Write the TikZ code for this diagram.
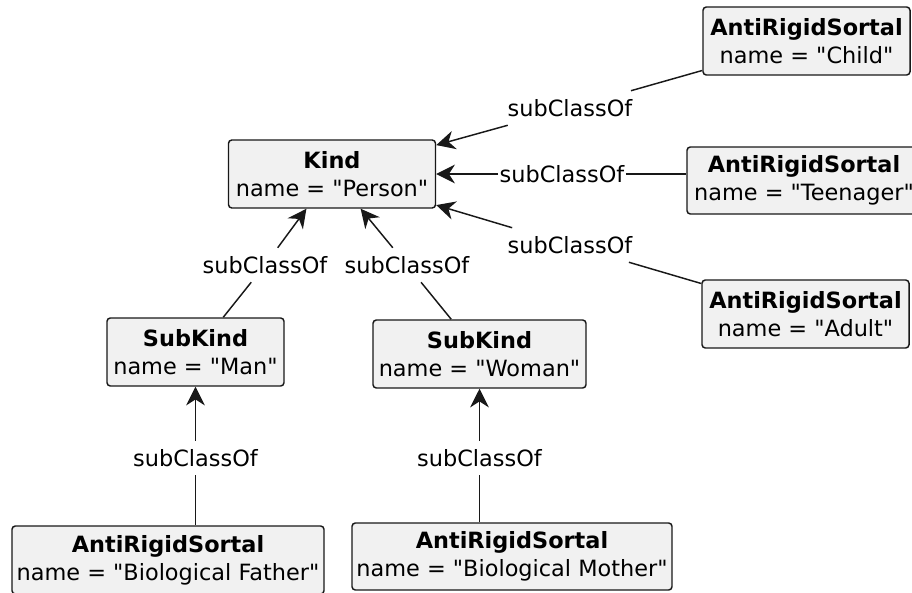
\documentclass[tikz,border=0pt]{standalone}
\usepackage{fontspec}
\newfontfamily\dvs{DejaVu Sans}
\usetikzlibrary{arrows.meta}
\definecolor{boxfill}{HTML}{F1F1F1}
\definecolor{boxline}{HTML}{181818}
\begin{document}
\begin{tikzpicture}[x=0.75pt,y=-0.75pt,
  cls/.style 2 args={draw=boxline, fill=boxfill, line width=1.1pt, rounded corners=2.5pt,
    inner sep=0pt, align=center, minimum width=#1*0.75pt, minimum height=#2*0.75pt,
    font=\dvs\fontsize{16.8}{21}\selectfont},
  lbl/.style={inner xsep=1pt, inner ysep=0pt, minimum height=25.5pt,
    font=\dvs\fontsize{16.8}{21}\selectfont},
  conn/.style={draw=boxline, line width=1.1pt},
  arr/.style={conn, -{Stealth[length=14pt, width=14pt, inset=4.5pt]}}]
\useasboundingbox (0,0) rectangle (912,592);
% classes
\node[cls={207}{68}] (person) at (332,174) {\textbf{Kind}\\name = "Person"};
\node[cls={207}{68}] (child) at (806.5,41) {\textbf{AntiRigidSortal}\\name = "Child"};
\node[cls={234}{67}] (teen) at (804,180.5) {\textbf{AntiRigidSortal}\\name = "Teenager"};
\node[cls={207}{68}] (adult) at (805.5,314) {\textbf{AntiRigidSortal}\\name = "Adult"};
\node[cls={177}{68}] (man) at (195.5,352) {\textbf{SubKind}\\name = "Man"};
\node[cls={213}{68}] (woman) at (479.5,354) {\textbf{SubKind}\\name = "Woman"};
\node[cls={312}{68}] (father) at (168,560) {\textbf{AntiRigidSortal}\\name = "Biological Father"};
\node[cls={320}{67}] (mother) at (512,556.5) {\textbf{AntiRigidSortal}\\name = "Biological Mother"};
% labels
\node[lbl] (l1) at (570,108) {subClassOf};
\node[lbl] (l2) at (562,174) {subClassOf};
\node[lbl] (l3) at (570,245) {subClassOf};
\node[lbl] (l4) at (265,265) {subClassOf};
\node[lbl] (l5) at (407,265) {subClassOf};
\node[lbl] (l6) at (195.5,458) {subClassOf};
\node[lbl] (l7) at (479.5,458) {subClassOf};
% connectors
\draw[conn] (child) -- (l1);
\draw[arr] (l1) -- (person);
\draw[conn] (l2.east) -- (l2.east -| teen.west);
\draw[arr] (l2.west) -- (l2.west -| person.east);
\draw[conn] (adult) -- (l3);
\draw[arr] (l3) -- (person);
\draw[conn] (man) -- (l4);
\draw[arr] (l4) -- (person);
\draw[conn] (woman) -- (l5);
\draw[arr] (l5) -- (person);
\draw[conn] (l6.south) -- (l6.south |- father.north);
\draw[arr] (l6) -- (man);
\draw[conn] (l7.south) -- (l7.south |- mother.north);
\draw[arr] (l7) -- (woman);
\end{tikzpicture}
\end{document}
